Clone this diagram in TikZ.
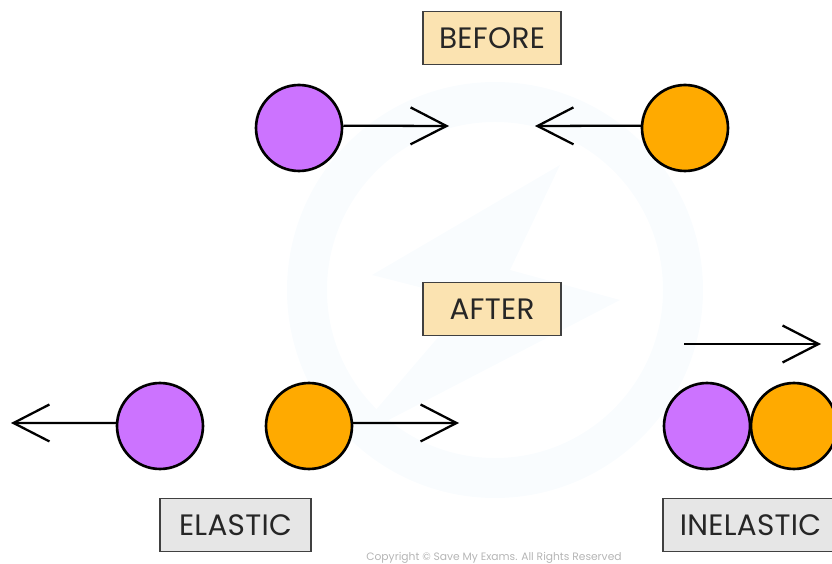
\documentclass[tikz,border=0pt]{standalone}
\usepackage{fontspec}
\usepackage{tikz}
\usetikzlibrary{arrows.meta}
\setmainfont{Poppins}
\definecolor{ballpurple}{HTML}{CC73FF}
\definecolor{ballorange}{HTML}{FFAA00}
\definecolor{tagcream}{HTML}{FBE3B1}
\definecolor{taggrey}{HTML}{E6E6E6}
\definecolor{markblue}{HTML}{F9FCFE}
\tikzset{
  ball/.style={circle, draw=black, line width=1.5pt, minimum size=1.72cm, inner sep=0pt},
  tag/.style={draw=black!75, line width=1.1pt, minimum height=1.06cm, inner sep=0pt, font=\fontsize{16.8}{20}\selectfont\addfontfeature{LetterSpace=1}, text=black!85},
  push/.style={line width=1.3pt, -{Straight Barb[length=0.72cm, width=0.74cm, line width=1.3pt]}}
}
\begin{document}
\begin{tikzpicture}[x=0.02cm, y=-0.02cm]
\useasboundingbox (0,0) rectangle (832,564);
\clip (0,0) rectangle (832,564);
\draw [markblue, line width=0.8cm] (495,290) circle (188);
\fill [markblue] (560,165) -- (372,275) -- (470,300) -- (350,440) -- (620,300) -- (510,270) -- cycle;
\node [ball, fill=ballpurple] (pa) at (299,128) {};
\node [ball, fill=ballorange] (oa) at (685,128) {};
\node [ball, fill=ballpurple] (pb) at (160,426) {};
\node [ball, fill=ballorange] (ob) at (309,426) {};
\node [ball, fill=ballorange] (oc) at (794,426) {};
\node [ball, fill=ballpurple] (pc) at (707,426) {};
\node [tag, fill=tagcream, minimum width=2.76cm] (before) at (492,38) {BEFORE};
\node [tag, fill=tagcream, minimum width=2.76cm] (after) at (492,309) {AFTER};
\node [tag, fill=taggrey, minimum width=3.02cm] (elastic) at (235.5,525) {ELASTIC};
\node [tag, fill=taggrey, minimum width=3.5cm] (inelastic) at (750.5,525) {INELASTIC};
\node [font=\fontsize{6.1}{8}\selectfont\addfontfeature{Color=B5B5B5}] (copy) at (494,558) {Copyright © Save My Exams. All Rights Reserved};
\coordinate (ta) at (449,126);
\coordinate (tb) at (535,126);
\coordinate (tc) at (11,423);
\coordinate (td) at (459,423);
\coordinate (te) at (684,344);
\coordinate (tf) at (821,344);
\draw [push] (pa.3) -- (ta);
\draw [push] (oa.177) -- (tb);
\draw [push] (pb.176) -- (tc);
\draw [push] (ob.4) -- (td);
\draw [push] (te) -- (tf);
\end{tikzpicture}
\end{document}
